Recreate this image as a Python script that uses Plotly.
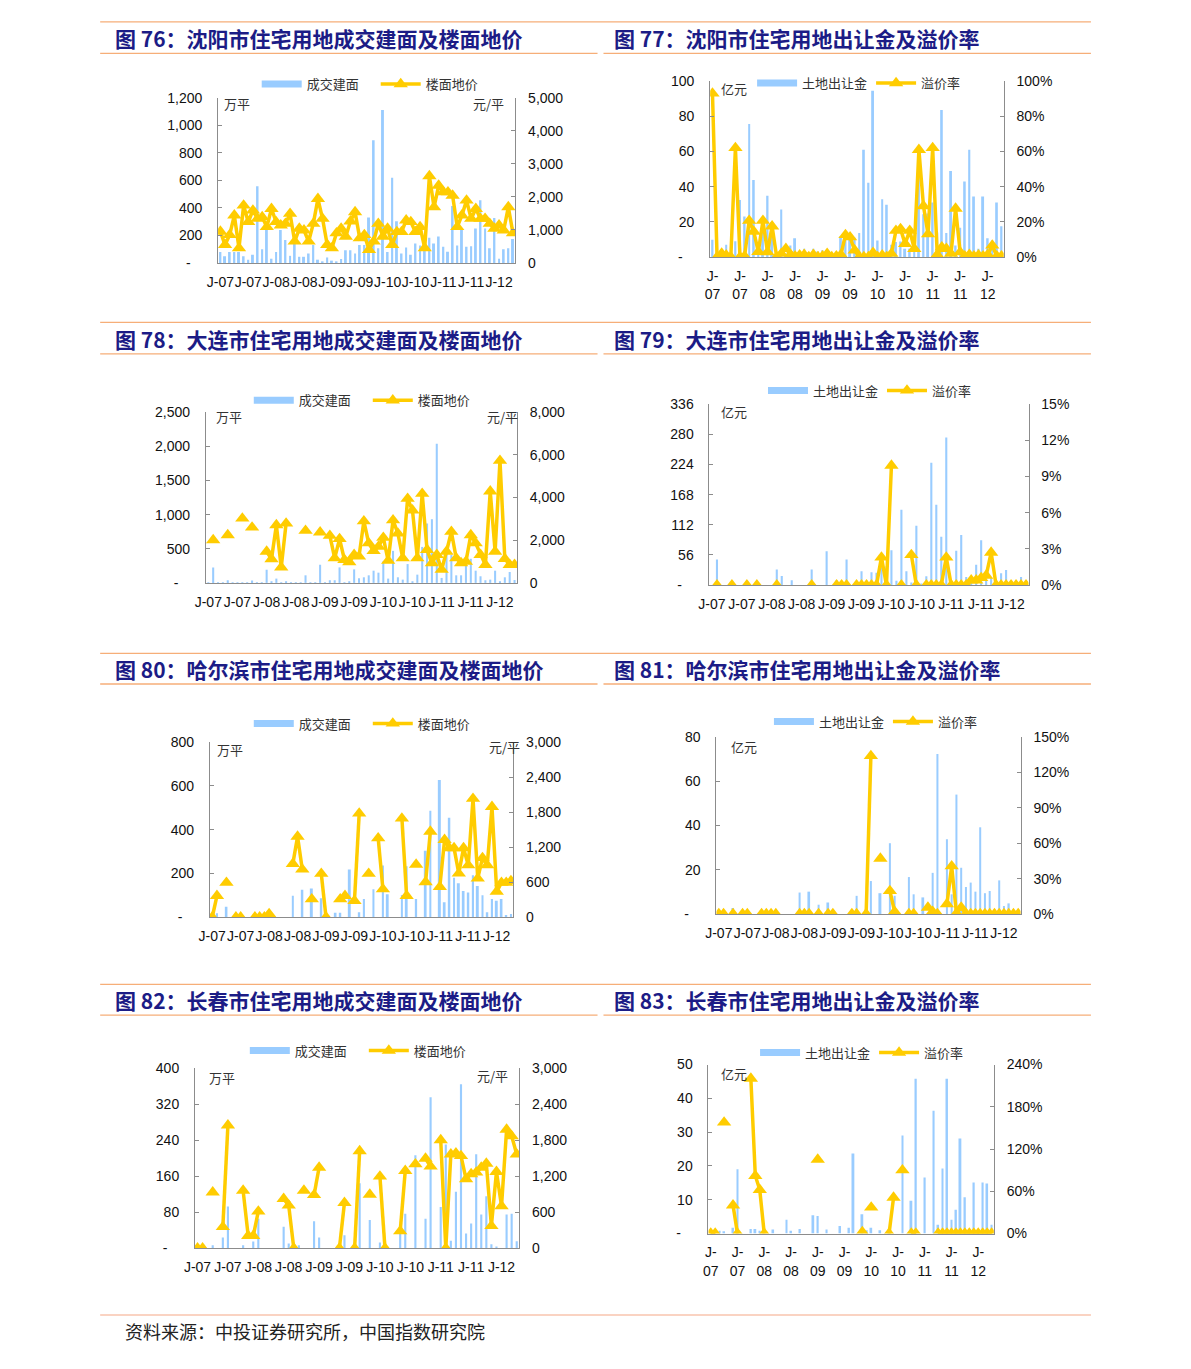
import plotly.graph_objects as go

W, H = 1191, 1369
N = None

# ---------------- categories / ticks ----------------
months = [f"{y}-{m:02d}" for y in range(2007, 2013) for m in range(1, 13)][:64]
tick_months = months[::6]
tick_labels = ["J-07", "J-07", "J-08", "J-08", "J-09", "J-09", "J-10", "J-10", "J-11", "J-11", "J-12"]
tick_labels_2 = ["J-<br>07", "J-<br>07", "J-<br>08", "J-<br>08", "J-<br>09", "J-<br>09",
                 "J-<br>10", "J-<br>10", "J-<br>11", "J-<br>11", "J-<br>12"]

# ---------------- 沈阳 ----------------
sy_area = [79, 48, 79, 79, 79, 48, 24, 60, 556, 100,
           240, 31, 80, 240, 167, 52, 174, 45, 45, 69,
           130, 24, 12, 40, 17, 12, 29, 93, 93, 69,
           130, 130, 330, 890, 107, 1110, 79, 618, 303, 69,
           112, 60, 141, 126, 95, 184, 141, 193, 117, 81,
           413, 126, 250, 117, 122, 250, 456, 250, 107, 327,
           31, 100, 107, 174]
sy_price = [950, 550, 850, 1440, 450, 1740, 1240, 1590, 1340, 1390,
            1090, 1640, 1240, 1140, 1190, 1490, 650, 1040, 990, 650,
            1190, 1940, 1340, 550, 450, 900, 1040, 800, 1260, 1540,
            750, 850, 400, 650, 1190, 800, 1040, 550, 940, 940,
            1290, 1240, 940, 1090, 450, 2630, 1690, 2340, 2140, 2140,
            2040, 1090, 1440, 1890, 1340, 1640, 1340, 1340, 1190, 1040,
            1140, 990, 1690, 900]
sy_land = [9.8, 0.5, 1, 7, 2, 9, 32.5, 23, 75.7, 43.8,
           3.2, 20, 34.8, 20, 2, 27, 2, 6.6, 10.7, 1.3,
           4.7, 2.8, 4.7, 3.2, 3.8, 2.4, 2.4, 2.4, 11.8, 11.8,
           10.7, 11, 13.7, 61, 42.3, 94.5, 9.4, 32.9, 29.7, 7,
           8.5, 8.8, 4.7, 4.7, 12.2, 45.7, 24.4, 24.8, 31, 14.1,
           83.6, 13.7, 48.9, 6.6, 16.7, 42.9, 61, 34.4, 4.7, 34.4,
           10.7, 9.4, 31, 17.5]
sy_prem = [93, 0, 2, 1, 0, 62, 0, 0.5, 20.7, 14.5,
           3, 20.7, 2.8, 17.5, 0, 1.9, 4.7, 1.3, 0.5, 1,
           1.3, 0, 1.3, 0, 0.5, 1.9, 0, 0.5, 1.3, 12.6,
           11.3, 3.8, 0, 0, 0, 2.4, 0, 1, 0, 1.9,
           15, 16, 7.5, 15, 4.7, 61, 29, 13, 62, 1.3,
           5.6, 4.7, 1.9, 27.6, 2.8, 0.5, 1.3, 0.5, 1, 0.5,
           1.3, 6.6, 0.5, 0.5]

# ---------------- 大连 ----------------
dl_area = [5, 227, 5, 5, 39, 5, 5, 10, 5, 34,
           5, 3, 193, 24, 63, 10, 24, 5, 3, 3,
           111, 10, 5, 266, 5, 39, 39, 227, 10, 15,
           198, 68, 82, 111, 179, 150, 314, 63, 469, 82,
           48, 276, 15, 121, 527, 870, 933, 2040, 73, 508,
           411, 111, 111, 353, 353, 179, 97, 39, 48, 179,
           15, 82, 160, 44]
dl_price = [N, 2010, N, N, 2245, N, N, 3020, N, 2600,
            N, N, 1470, 1115, 2710, 730, 2790, N, N, N,
            2450, N, N, 2370, N, 2215, 1160, 2060, 1085, 975,
            1315, 1240, 2895, 1860, 1500, 1700, 2120, 1040, 2940, 2320,
            1160, 3950, 3400, 1160, 4180, 1550, 930, 1315, 620, 1470,
            2400, 1160, 930, 1000, 2245, 1860, 1315, 850, 4290, 1470,
            5730, 1130, 850, 850]
dl_land = [0, 47.6, 0, 0, 0, 0, 0, 0, 0, 0,
           0, 0, 0, 29, 17, 0, 9, 0, 0, 0,
           29, 0, 0, 63, 0, 9, 0, 47.6, 0, 3,
           26, 3, 24, 23, 32, 35, 65, 8, 140, 26,
           5, 110, 3, 16.5, 227, 149, 90, 274, 5, 64,
           93, 15, 11, 38, 83.5, 14, 14, 5, 22, 28,
           8, 8, 15, 7]
dl_prem = [N, 0, N, N, 0, N, N, 0, N, 0,
           N, N, N, 0, N, N, N, N, N, N,
           0, N, N, N, N, 0, 0, 0, N, 0,
           0, 0, 0, 0, 2.3, 0, 9.9, N, 0, N,
           2.5, 0, N, 0, 0, 0, 0, 2.3, 0, 0,
           0, 0, 0.4, 0.4, 0.6, 0.8, 2.7, 0, 0, 0,
           0, 0, 0, 0]

# ---------------- 哈尔滨 ----------------
hrb_area = [0, 18, 0, 48, 0, 0, 0, 0, 0, 0,
            0, 0, 0, 0, 0, 0, 0, 98, 0, 125,
            0, 131, 0, 87, 0, 0, 20, 20, 0, 218,
            0, 23, 83, 0, 128, 0, 236, 105, 0, 0,
            102, 233, 0, 83, 0, 304, 486, 0, 627, 68,
            454, 180, 155, 120, 113, 192, 143, 101, 23, 83,
            75, 83, 10, 15]
hrb_price = [0, 367, N, 592, N, 0, 0, N, N, 0,
             0, 0, 56, N, N, N, N, 914, 1382, 818,
             N, 310, N, 745, 0, N, N, 310, 367, N,
             282, 1777, N, 745, N, 1354, 480, N, N, N,
             1692, 367, N, 902, N, 603, 1466, N, 519, 1325,
             1184, 1184, 750, 1184, 891, 2030, 665, 1015, 891, 1890,
             440, 592, 592, 620]
hrb_land = [0, 0, 0, 2.7, 0, 0, 0, 0, 0, 0,
            0, 0, 0, 0, 0, 0, 0, 9.7, 0, 10.1,
            0, 4.2, 0, 5.2, 0, 0, 0, 0, 0, 8.2,
            0, 0, 14.9, 0, 9.4, 0, 32, 8.2, 0, 0,
            16.7, 8.9, 0, 7.5, 0, 18.6, 72.3, 0, 33.8, 8.9,
            54, 20.9, 12.2, 14.2, 10.1, 39.2, 9.4, 10.4, 0.5, 15.2,
            3.6, 4.8, 1.5, 0.5]
hrb_prem = [0, 0, N, 0, N, 0, 0, N, N, 0,
            0, 0, 0, N, N, N, N, 0, 0, 0,
            N, 0, N, 0, 0, N, N, N, 0, 0,
            N, 0, 134, N, 47, N, 19.5, 2, N, N,
            0, 0, N, N, 5.5, 2, 0, N, 8.4, 40.5,
            0.5, 5.6, 0, 0, 0, 0, 0, 0, 0, 0,
            0, 0, 0, 0]

# ---------------- 长春 ----------------
cc_area = [0, 0, 0, 7, 0, 24, 93, 0, 0, 7,
           0, 15, 66, 0, 0, 0, 0, 48, 11, 0,
           7, 0, 0, 60, 24, 0, 0, 0, 0, 29,
           0, 0, 145, 0, 63, 0, 13, 0, 0, 0,
           53, 77, 0, 207, 0, 66, 336, 0, 92, 231,
           17, 126, 365, 33, 55, 209, 75, 116, 9, 4,
           0, 75, 77, 16]
cc_price = [0, 0, N, 935, N, 357, 2052, N, N, 963,
            209, 209, 616, N, N, N, N, 825, 715, 0,
            N, 963, N, 891, 1348, N, N, N, 0, 760,
            N, 0, 1623, N, 897, N, 1200, 0, N, N,
            286, 1293, N, 1403, N, 1497, 1365, N, 1805, 0,
            1568, 1585, 1541, 1156, 1238, 1266, 1348, 1414, 374, 1277,
            704, 1981, 1871, 1568]
cc_land = [0, 0, 0.8, 0.7, 0, 1.7, 19, 0, 0, 1.3,
           1.3, 0.8, 0, 0, 1.2, 0, 0, 4.1, 0.8, 0,
           1.3, 0, 0, 5.4, 5.2, 0, 1.2, 0, 0, 2.2,
           0, 1.7, 23.7, 0, 5.7, 1, 1.7, 0, 1, 0,
           1, 0, 0, 29, 0, 9.7, 45.8, 0, 16.6, 0,
           36.3, 2.6, 19.2, 45.8, 4.1, 7, 28.1, 10.7, 0.5, 15.1,
           0.5, 15.1, 14.8, 2.6]
cc_prem = [0, 0, N, 157.7, N, 40, 0, N, N, 220,
           82, 62, 0, N, N, N, N, N, N, N,
           N, N, N, N, 105, N, N, N, N, N,
           N, N, N, N, 2, N, 37, N, N, N,
           0, 51, N, 90, N, 0, 0, N, N, N,
           N, 0, 0, 0, 0, 0, 0, 0, 0, 0,
           0, 0, 0, 0]

# ---------------- axis tick labels ----------------
Z = "-\u00a0\u00a0\u00a0"
sy_l_vals = [0, 200, 400, 600, 800, 1000, 1200]
sy_l_text = [Z, "200", "400", "600", "800", "1,000", "1,200"]
sy_r_vals = [0, 1000, 2000, 3000, 4000, 5000]
sy_r_text = ["0", "1,000", "2,000", "3,000", "4,000", "5,000"]
sy2_l_vals = [0, 20, 40, 60, 80, 100]
sy2_l_text = [Z, "20", "40", "60", "80", "100"]
sy2_r_vals = [0, 20, 40, 60, 80, 100]
sy2_r_text = ["0%", "20%", "40%", "60%", "80%", "100%"]
dl_l_vals = [0, 500, 1000, 1500, 2000, 2500]
dl_l_text = [Z, "500", "1,000", "1,500", "2,000", "2,500"]
dl_r_vals = [0, 2000, 4000, 6000, 8000]
dl_r_text = ["0", "2,000", "4,000", "6,000", "8,000"]
dl2_l_vals = [0, 56, 112, 168, 224, 280, 336]
dl2_l_text = [Z, "56", "112", "168", "224", "280", "336"]
dl2_r_vals = [0, 3, 6, 9, 12, 15]
dl2_r_text = ["0%", "3%", "6%", "9%", "12%", "15%"]
hrb_l_vals = [0, 200, 400, 600, 800]
hrb_l_text = [Z, "200", "400", "600", "800"]
hrb_r_vals = [0, 600, 1200, 1800, 2400, 3000]
hrb_r_text = ["0", "600", "1,200", "1,800", "2,400", "3,000"]
hrb2_l_vals = [0, 20, 40, 60, 80]
hrb2_l_text = [Z, "20", "40", "60", "80"]
hrb2_r_vals = [0, 30, 60, 90, 120, 150]
hrb2_r_text = ["0%", "30%", "60%", "90%", "120%", "150%"]
cc_l_vals = [0, 80, 160, 240, 320, 400]
cc_l_text = [Z, "80", "160", "240", "320", "400"]
cc_r_vals = [0, 600, 1200, 1800, 2400, 3000]
cc_r_text = ["0", "600", "1,200", "1,800", "2,400", "3,000"]
cc2_l_vals = [0, 10, 20, 30, 40, 50]
cc2_l_text = [Z, "10", "20", "30", "40", "50"]
cc2_r_vals = [0, 60, 120, 180, 240]
cc2_r_text = ["0%", "60%", "120%", "180%", "240%"]

titles = [
    "图 76：沈阳市住宅用地成交建面及楼面地价",
    "图 77：沈阳市住宅用地出让金及溢价率",
    "图 78：大连市住宅用地成交建面及楼面地价",
    "图 79：大连市住宅用地出让金及溢价率",
    "图 80：哈尔滨市住宅用地成交建面及楼面地价",
    "图 81：哈尔滨市住宅用地出让金及溢价率",
    "图 82：长春市住宅用地成交建面及楼面地价",
    "图 83：长春市住宅用地出让金及溢价率",
]
source_text = "资料来源：中投证券研究所，中国指数研究院"

# ---------------- styling ----------------
BAR_C = "#99CCFF"
LINE_C = "#FFCC00"
AX_C = "#8c8c8c"
TITLE_C = "#1c1c86"
RULE_C = "#F6AE78"
NUM_FONT = dict(family="Liberation Sans, Arial, sans-serif", size=14, color="#111")
CJK = "Noto Sans CJK SC"


def xp(x):
    return x / W


def yp(y):
    return 1 - y / H


panels = [
    dict(bars=sy_area, line=sy_price, names=("成交建面", "楼面地价"),
         box=(209, 509, 90.7, 258), l=(1200, sy_l_vals, sy_l_text), r=(5000, sy_r_vals, sy_r_text),
         leg=(253, 77), units=[("万平", 213, 97, "left"), ("元/平", 500, 97, "right")], two=False),
    dict(bars=sy_land, line=sy_prem, names=("土地出让金", "溢价率"),
         box=(705.7, 1002, 74, 252), l=(100, sy2_l_vals, sy2_l_text), r=(100, sy2_r_vals, sy2_r_text),
         leg=(753, 76), units=[("亿元", 715, 81, "left")], two=True),
    dict(bars=dl_area, line=dl_price, names=("成交建面", "楼面地价"),
         box=(196.7, 510.7, 409, 581.7), l=(2500, dl_l_vals, dl_l_text), r=(8000, dl_r_vals, dl_r_text),
         leg=(245, 397), units=[("万平", 205, 413, "left"), ("元/平", 514, 413, "right")], two=False),
    dict(bars=dl_land, line=dl_prem, names=("土地出让金", "溢价率"),
         box=(705, 1027, 400.7, 584), l=(336, dl2_l_vals, dl2_l_text), r=(15, dl2_r_vals, dl2_r_text),
         leg=(764, 387), units=[("亿元", 715, 408, "left")], two=False),
    dict(bars=hrb_area, line=hrb_price, names=("成交建面", "楼面地价"),
         box=(200.7, 507, 742.7, 920), l=(800, hrb_l_vals, hrb_l_text), r=(3000, hrb_r_vals, hrb_r_text),
         leg=(245, 724), units=[("万平", 206, 750, "left"), ("元/平", 516, 747, "right")], two=False),
    dict(bars=hrb_land, line=hrb_prem, names=("土地出让金", "溢价率"),
         box=(712, 1019, 737.7, 916.7), l=(80, hrb2_l_vals, hrb2_l_text), r=(150, hrb2_r_vals, hrb2_r_text),
         leg=(770, 722), units=[("亿元", 725, 747, "left")], two=False),
    dict(bars=cc_area, line=cc_price, names=("成交建面", "楼面地价"),
         box=(185.7, 513, 1073, 1255), l=(400, cc_l_vals, cc_l_text), r=(3000, cc_r_vals, cc_r_text),
         leg=(241, 1055), units=[("万平", 198, 1082, "left"), ("元/平", 504, 1080, "right")], two=False),
    dict(bars=cc_land, line=cc_prem, names=("土地出让金", "溢价率"),
         box=(704, 992, 1069, 1240), l=(50, cc2_l_vals, cc2_l_text), r=(240, cc2_r_vals, cc2_r_text),
         leg=(756, 1057), units=[("亿元", 715, 1078, "left")], two=True),
]

fig = go.Figure()
layout = dict(
    width=W, height=H, margin=dict(l=0, r=0, t=0, b=0),
    paper_bgcolor="white", plot_bgcolor="white",
    showlegend=True, barmode="overlay",
)
annotations = []
shapes = []

for k, p in enumerate(panels, start=1):
    xid = "x" if k == 1 else f"x{k}"
    yl_n, yr_n = 2 * k - 1, 2 * k
    ylid = "y" if yl_n == 1 else f"y{yl_n}"
    yrid = f"y{yr_n}"
    lg = "legend" if k == 1 else f"legend{k}"
    L, R, T, B = p["box"]

    fig.add_trace(go.Bar(x=months, y=p["bars"], name=p["names"][0], marker=dict(color=BAR_C, line_width=0),
                         width=0.42, xaxis=xid, yaxis=ylid, showlegend=False,
                         legendgroup=f"b{k}", legend=lg))
    fig.add_trace(go.Scatter(x=[None], y=[None], name=p["names"][0], mode="lines",
                             line=dict(color=BAR_C, width=7), xaxis=xid, yaxis=ylid,
                             legendgroup=f"b{k}", legend=lg, hoverinfo="skip"))
    fig.add_trace(go.Scatter(x=months, y=p["line"], name=p["names"][1], mode="lines+markers",
                             line=dict(color=LINE_C, width=3.5),
                             marker=dict(symbol="triangle-up", size=12.5, color=LINE_C),
                             connectgaps=False, xaxis=xid, yaxis=yrid, legend=lg))

    layout["xaxis" if k == 1 else f"xaxis{k}"] = dict(
        domain=[xp(L), xp(R)], anchor=ylid, type="category",
        categoryorder="array", categoryarray=months, range=[-0.5, 63.5],
        tickmode="array", tickvals=tick_months,
        ticktext=tick_labels_2 if p["two"] else tick_labels,
        ticks="", showline=True, linecolor=AX_C, linewidth=1, showgrid=False,
        zeroline=False, tickfont=NUM_FONT, tickangle=0, ticklabelstandoff=6,
    )
    lmax, lvals, ltext = p["l"]
    rmax, rvals, rtext = p["r"]
    layout["yaxis" if yl_n == 1 else f"yaxis{yl_n}"] = dict(
        domain=[yp(B), yp(T)], anchor=xid, range=[0, lmax],
        tickmode="array", tickvals=lvals, ticktext=ltext,
        ticks="inside", ticklen=4, tickcolor=AX_C, showline=True, linecolor=AX_C, linewidth=1,
        showgrid=False, zeroline=False, tickfont=NUM_FONT, ticklabelstandoff=12,
    )
    layout[f"yaxis{yr_n}"] = dict(
        domain=[yp(B), yp(T)], anchor=xid, overlaying=ylid, side="right", range=[0, rmax],
        tickmode="array", tickvals=rvals, ticktext=rtext,
        ticks="inside", ticklen=4, tickcolor=AX_C, showline=True, linecolor=AX_C, linewidth=1,
        showgrid=False, zeroline=False, tickfont=NUM_FONT, ticklabelstandoff=9,
    )
    lx, ly = p["leg"]
    layout[lg] = dict(
        orientation="h", x=xp(lx - 5), y=yp(ly), xanchor="left", yanchor="middle",
        bgcolor="rgba(0,0,0,0)", borderwidth=0, itemwidth=40, entrywidth=64,
        font=dict(family=CJK, size=13, color="#333"), traceorder="normal",
        itemclick=False, itemdoubleclick=False,
    )
    for txt, ux, uy, anc in p["units"]:
        annotations.append(dict(text=txt, x=xp(ux), y=yp(uy), xref="paper", yref="paper",
                                xanchor=anc, yanchor="middle", showarrow=False,
                                font=dict(family=CJK, size=13, color="#333")))

# ---------------- title bars ----------------
title_rows = [(14, 46, 30.5), (318, 350, 335), (653, 684, 668.5), (988, 1019, 1003.5)]
for r, (ytop, ybot, ytxt) in enumerate(title_rows):
    shapes.append(dict(type="line", xref="paper", yref="paper", x0=xp(90), x1=xp(1090),
                       y0=yp(ytop), y1=yp(ytop), line=dict(color=RULE_C, width=1.3)))
    for c, (x0, x1, tx) in enumerate([(90, 592, 103), (598, 1090, 607)]):
        shapes.append(dict(type="line", xref="paper", yref="paper", x0=xp(x0), x1=xp(x1),
                           y0=yp(ybot), y1=yp(ybot), line=dict(color=RULE_C, width=1.3)))
        annotations.append(dict(text="<b>" + titles[2 * r + c] + "</b>", x=xp(tx), y=yp(ytxt),
                                xref="paper", yref="paper", xanchor="left", yanchor="middle",
                                showarrow=False, font=dict(family=CJK, size=21, color=TITLE_C)))

shapes.append(dict(type="line", xref="paper", yref="paper", x0=xp(90), x1=xp(1090),
                   y0=yp(1322.5), y1=yp(1322.5), line=dict(color="#F8C4AE", width=1.5)))
annotations.append(dict(text=source_text, x=xp(113), y=yp(1339), xref="paper", yref="paper",
                        xanchor="left", yanchor="middle", showarrow=False,
                        font=dict(family=CJK, size=18, color="#222")))

layout["annotations"] = annotations
layout["shapes"] = shapes
fig.update_layout(**layout)
fig.write_html("out.html")
